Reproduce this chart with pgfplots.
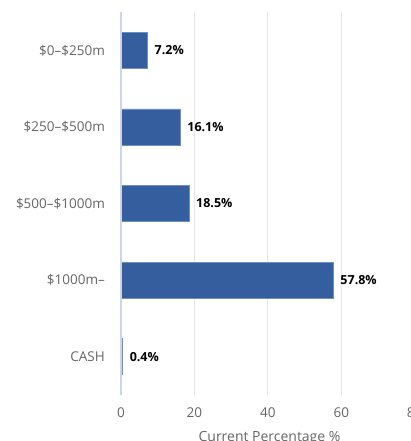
\documentclass[border=0pt]{standalone}
\usepackage{fontspec}
\setmainfont{Open Sans}
\usepackage{pgfplots}
\pgfplotsset{compat=1.18}
\definecolor{barblue}{HTML}{355E9F}
\definecolor{baredge}{HTML}{6F8FC4}
\definecolor{gridc}{HTML}{E6E6E6}
\definecolor{griddark}{HTML}{BFC3C8}
\definecolor{axisc}{HTML}{CCD6EB}
\definecolor{labc}{HTML}{666666}
\begin{document}
\begin{tikzpicture}
\clip (-121bp,-46bp) rectangle (290bp,395bp);
\fill[white] (-121bp,-46bp) rectangle (290bp,395bp);
\begin{axis}[
  at={(0,0)}, anchor=south west,
  scale only axis,
  width=293.7bp, height=383bp,
  xbar,
  bar width=36bp,
  xmin=0, xmax=80,
  ymin=-0.5, ymax=4.5,
  y dir=reverse,
  axis line style={draw=none},
  major tick length=0pt,
  xtick={0,20,40,60,80},
  ytick={0,1,2,3,4},
  yticklabels={\$0--\$250m,\$250--\$500m,\$500--\$1000m,\$1000m--,CASH},
  xmajorgrids,
  major grid style={color=gridc, line width=1bp},
  extra x ticks={40},
  extra x tick labels={},
  extra x tick style={grid style={color=griddark, line width=1bp}},
  /pgf/number format/assume math mode=true,
  xticklabel style={font=\fontsize{13.5bp}{15bp}\selectfont, text=labc, anchor=base, inner sep=0pt, yshift=-22bp},
  yticklabel style={font=\fontsize{13.5bp}{15bp}\selectfont, text=labc, anchor=east, inner sep=0pt, xshift=-16bp},
  xlabel={Current Percentage \%},
  every axis x label/.style={at={(axis description cs:0.5056,0)}, anchor=base, yshift=-46bp, font=\fontsize{14bp}{16bp}\selectfont, text=labc, inner sep=0pt},
  nodes near coords={\pgfmathprintnumber[fixed,fixed zerofill,precision=1]{\pgfplotspointmeta}\%},
  every node near coord/.append style={anchor=west, inner sep=0pt, xshift=7bp, font=\fontsize{12.5bp}{14bp}\selectfont\bfseries, text=black},
  clip=false,
]
\addplot[fill=barblue, draw=baredge, line width=0.6bp] coordinates {
  (7.2,0) (16.1,1) (18.5,2) (57.8,3) (0.4,4)
};
\draw[axisc, line width=1.2bp] (axis cs:0,-0.5) -- (axis cs:0,4.5);
\end{axis}
\end{tikzpicture}
\end{document}
